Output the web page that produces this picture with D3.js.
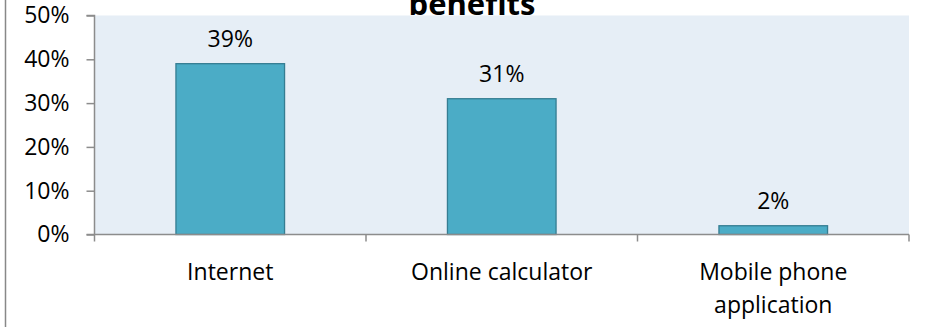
<!DOCTYPE html>
<html><head><meta charset="utf-8">
<script src="https://cdn.jsdelivr.net/npm/d3@7"></script>
<style>body{margin:0;background:#fff}svg{display:block}text{font-family:"Open Sans",sans-serif}</style>
</head><body><svg id="c" width="925" height="327"></svg>
<script>
const categories = [["Internet"], ["Online calculator"], ["Mobile phone", "application"]];
const values = [0.39, 0.31, 0.02];
const yTicks = [0, 0.1, 0.2, 0.3, 0.4, 0.5];
const titleText = "benefits";

const FS = 23;
const svg = d3.select("#c");
const m = {l: 94.5, r: 909, t: 15.5, b: 234.5};
svg.append("line").attr("x1",5.5).attr("x2",5.5).attr("y1",0).attr("y2",327).attr("stroke","#888").attr("stroke-width",1.5);

const x = d3.scaleBand().domain(d3.range(categories.length)).range([m.l, m.r]).paddingInner(0.6).paddingOuter(0.3);
const xb = d3.scaleBand().domain(d3.range(categories.length)).range([m.l, m.r]);
const y = d3.scaleLinear().domain([0, 0.5]).range([m.b, m.t]);

svg.append("rect").attr("x", m.l).attr("y", m.t).attr("width", m.r - m.l).attr("height", m.b - m.t).attr("fill", "#E6EEF6");

svg.selectAll("rect.bar").data(values).enter().append("rect").attr("class","bar")
  .attr("x",(d,i)=>x(i)).attr("width",x.bandwidth())
  .attr("y",d=>y(d)).attr("height",d=>y(0)-y(d))
  .attr("fill","#4BACC6").attr("stroke","#357D92").attr("stroke-width",1.3);

svg.selectAll("text.val").data(values).enter().append("text").attr("class","val")
  .attr("x",(d,i)=>x(i)+x.bandwidth()/2).attr("y",d=>y(d)-17)
  .attr("text-anchor","middle").style("font-size",FS+"px").attr("fill","#000")
  .text(d=>Math.round(d*100)+"%");

const ya = svg.append("g").attr("transform",`translate(${m.l},0)`)
  .call(d3.axisLeft(y).tickValues(yTicks).tickFormat(d3.format(".0%")).tickSize(8).tickPadding(17));
ya.select(".domain").attr("stroke","#8c8c8c").attr("stroke-width",1.5).attr("d",`M-8,${m.t}H0V${m.b}`);
ya.selectAll(".tick line").attr("stroke","#8c8c8c").attr("stroke-width",1.5);
ya.selectAll(".tick text").style("font-size",FS+"px").attr("fill","#000").style("font-family","Open Sans");

const xa = svg.append("g").attr("transform",`translate(0,${m.b})`);
xa.append("line").attr("x1",m.l-8).attr("x2",m.r).attr("y1",0).attr("y2",0).attr("stroke","#8c8c8c").attr("stroke-width",1.5);
const bounds = d3.range(categories.length+1).map(i=> i<categories.length ? xb(i) : m.r);
xa.selectAll("line.t").data(bounds).enter().append("line").attr("class","t")
  .attr("x1",d=>d).attr("x2",d=>d).attr("y1",0).attr("y2",7).attr("stroke","#8c8c8c").attr("stroke-width",1.5);
categories.forEach((lines,i)=>{
  const t = xa.append("text").attr("text-anchor","middle").style("font-size",FS+"px").attr("fill","#000");
  lines.forEach((ln,j)=>t.append("tspan").attr("x",xb(i)+xb.bandwidth()/2).attr("y",45+j*33).text(ln));
});

svg.append("text").attr("x",472).attr("y",15).attr("text-anchor","middle")
  .style("font-size","31px").attr("font-weight","bold").attr("fill","#000").text(titleText);
</script></body></html>
